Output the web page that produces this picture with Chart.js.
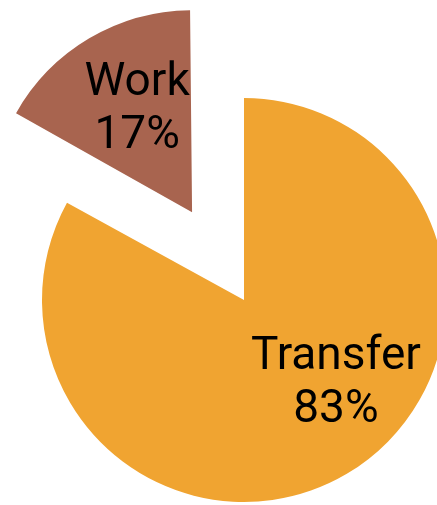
<!DOCTYPE html>
<html>
<head>
<meta charset="utf-8">
<script src="https://cdn.jsdelivr.net/npm/chart.js@4.4.0/dist/chart.umd.min.js"></script>
<style>
  html, body { margin: 0; padding: 0; background: #fff; overflow: hidden; }
  #wrap { width: 437px; height: 505px; position: relative; }
</style>
</head>
<body>
<div id="wrap"><canvas id="pieChart"></canvas></div>
<script>
// 데이터
var labels = ['Transfer', 'Work'];
var values = [83, 17];
var colors = ['#F0A431', '#A8644F'];
// 조각이 중심에서 밀려나는 거리(px)
var pullOut = [0, 102];
// 라벨 위치 (조각 꼭짓점 기준, 반지름 비율)
var labelPos = [[0.455, 0.473], [-0.272, -0.448]];

var RADIUS = 202;

// v4 arc 는 offset/4 만큼 이동하고, 반지름도 offset/4*fix 만큼 키움
function arcFix(arc) {
  return 1 - Math.sin(Math.min(Math.PI, arc.circumference || 0));
}

// 밀려난 조각의 반지름이 커지지 않도록 보정
var radiusFixPlugin = {
  id: 'radiusFix',
  beforeDatasetsDraw: function (chart) {
    chart.getDatasetMeta(0).data.forEach(function (arc) {
      var off = (arc.options.offset || 0) / 4;
      arc.outerRadius = RADIUS - off * arcFix(arc);
    });
  }
};

var labelPlugin = {
  id: 'sliceLabels',
  afterDatasetsDraw: function (chart) {
    var ctx = chart.ctx;
    var meta = chart.getDatasetMeta(0);
    ctx.save();
    ctx.fillStyle = '#000';
    ctx.font = '46px Roboto, "Liberation Sans", sans-serif';
    ctx.textAlign = 'center';
    ctx.textBaseline = 'alphabetic';
    meta.data.forEach(function (arc, i) {
      var mid = (arc.startAngle + arc.endAngle) / 2;
      var s = (arc.options.offset || 0) / 4;
      var ax = arc.x + Math.cos(mid) * s;
      var ay = arc.y + Math.sin(mid) * s;
      var x = ax + labelPos[i][0] * RADIUS;
      var y = ay + labelPos[i][1] * RADIUS;
      ctx.fillText(labels[i], x, y - 26.5);
      ctx.fillText(values[i] + '%', x, y + 26.5);
    });
    ctx.restore();
  }
};

var ctx = document.getElementById('pieChart').getContext('2d');
var pieChart = new Chart(ctx, {
  type: 'pie',
  data: {
    labels: labels,
    datasets: [
      {
        data: values,
        backgroundColor: colors,
        borderWidth: 0,
        offset: pullOut.map(function (p) { return p * 4; }),
      },
    ],
  },
  options: {
    responsive: true,
    maintainAspectRatio: false,
    animation: false,
    radius: RADIUS,
    cutout: '0%', // 숫자 0 이면 offset 이 클 때 NaN 이 나옴
    layout: {
      padding: { left: 51, top: 95, right: 0, bottom: 0 },
    },
    plugins: {
      legend: { display: false },
      tooltip: { enabled: false },
    },
  },
  plugins: [radiusFixPlugin, labelPlugin],
});
</script>
</body>
</html>
